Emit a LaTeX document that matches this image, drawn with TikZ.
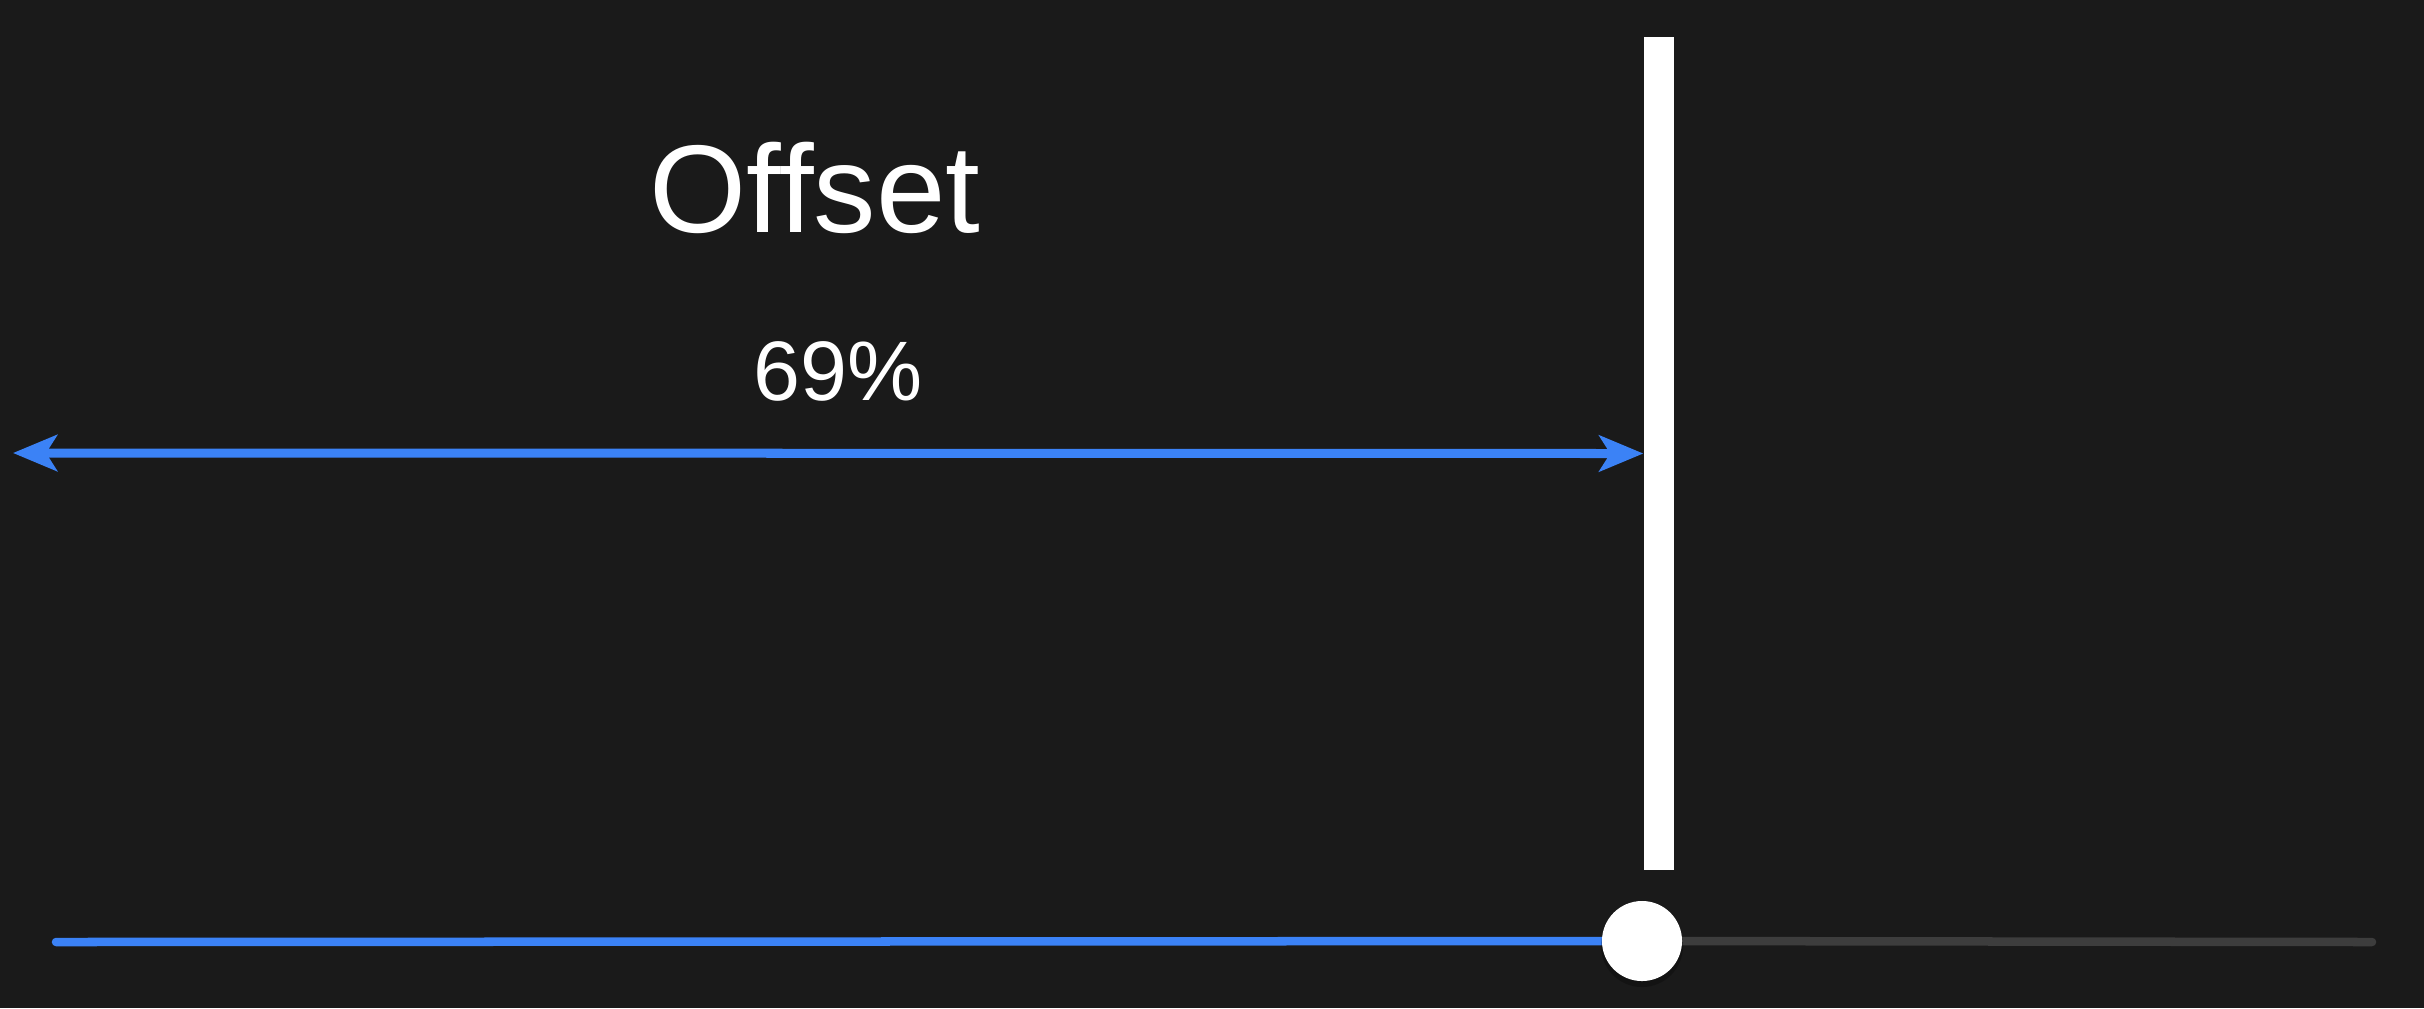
\documentclass[tikz,border=0pt]{standalone}
\usepackage{fontspec}
\setmainfont{Liberation Sans}
\usetikzlibrary{arrows.meta,positioning}
\definecolor{bgdark}{HTML}{1A1A1A}
\definecolor{accent}{HTML}{3B82F6}
\definecolor{trackgray}{HTML}{3D3D3D}

\begin{document}
\begin{tikzpicture}[
  x=0.01cm, y=-0.01cm,
  divider/.style={fill=white, draw=none, inner sep=0pt, minimum width=0.30cm, minimum height=8.33cm},
  knobdot/.style={circle, fill=white, draw=none, inner sep=0pt, minimum size=0.80cm},
  titletext/.style={text=white, anchor=base, font=\fontsize{35.5}{40}\selectfont},
  valuetext/.style={text=white, anchor=base, font=\fontsize{24}{28}\selectfont},
  dimarrow/.style={{Stealth[length=0.44cm, width=0.36cm, inset=0.11cm]}-{Stealth[length=0.44cm, width=0.36cm, inset=0.11cm]}, line width=0.09cm, accent},
  trackline/.style={line width=0.085cm, line cap=round}
]
\fill[bgdark] (0,0) rectangle (2424,1008);
\useasboundingbox (0,0) rectangle (2424,1008);

\node[divider] (bar) at (1659,453.5) {};
\node[titletext] (title) at (815,232) {Offset};
\node[valuetext] (value) at (838,400) {69\%};

\coordinate (arrowstart) at (13,453);
\draw[dimarrow] (arrowstart) -- (bar.west);

% slider
\coordinate (trackstart) at (56,942);
\coordinate (trackend) at (2372,942);
\coordinate (knobpos) at (1642,941);
\draw[trackline, trackgray] (knobpos) -- (trackend);
\draw[trackline, accent] (trackstart) -- (knobpos);
\fill[black, opacity=0.25] ([yshift=-0.05cm]knobpos) circle (0.41cm);
\node[knobdot] (knob) at (knobpos) {};

\end{tikzpicture}
\end{document}
